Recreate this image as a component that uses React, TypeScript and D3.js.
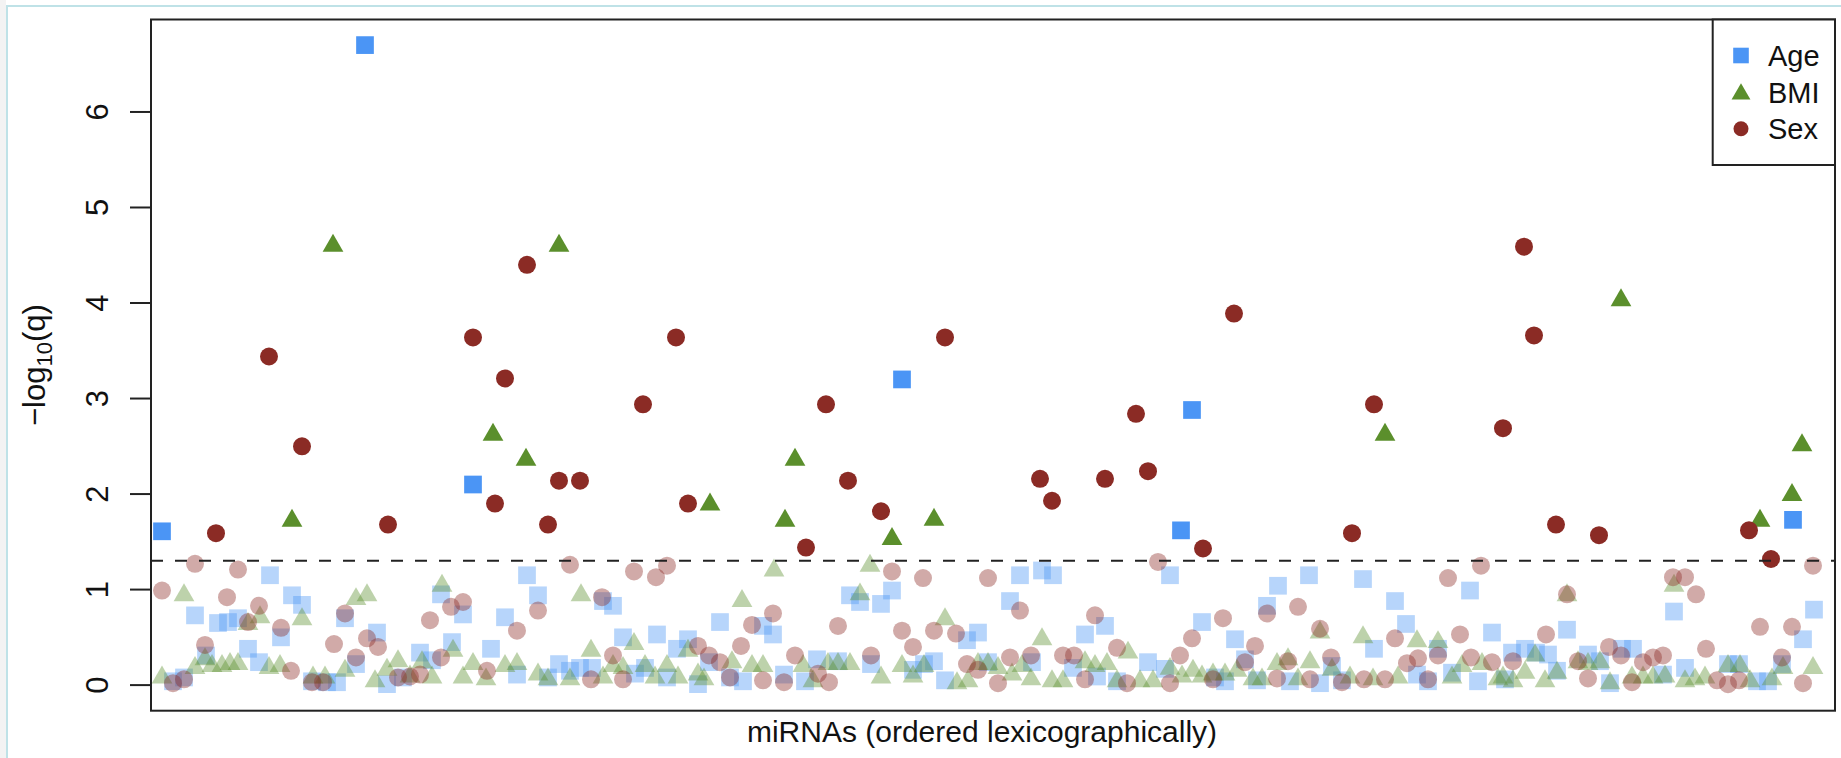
import * as d3 from "d3";

// -log10(q) per miRNA, [position in lexicographic order, value]
const agePoints: [number, number][] = [
  [1.1, 1.61], [2.2, 0.04], [3.3, 0.08], [4.4, 0.73], [5.5, 0.31], [6.7, 0.65], [7.7, 0.66], [8.7, 0.7],
  [9.7, 0.38], [10.8, 0.24], [11.9, 1.15], [13.0, 0.5], [14.1, 0.94], [15.1, 0.84], [16.1, 0.04], [17.6, 0.03],
  [18.6, 0.03], [19.4, 0.7], [20.5, 0.22], [21.4, 6.7], [22.6, 0.55], [23.6, 0.01], [25.2, 0.08], [26.9, 0.34],
  [28.1, 0.26], [29.0, 0.95], [30.1, 0.45], [31.2, 0.74], [32.2, 2.1], [34.0, 0.38], [35.4, 0.71], [36.6, 0.11],
  [37.6, 1.15], [38.7, 0.94], [39.7, 0.08], [40.8, 0.22], [41.9, 0.15], [42.9, 0.18], [44.1, 0.18], [45.2, 0.88],
  [46.2, 0.83], [47.2, 0.5], [48.4, 0.12], [49.4, 0.18], [50.6, 0.53], [51.6, 0.08], [52.6, 0.38], [53.7, 0.48],
  [54.7, 0.01], [55.8, 0.24], [56.9, 0.66], [57.9, 0.08], [59.2, 0.04], [61.2, 0.62], [62.2, 0.53], [63.3, 0.11],
  [65.4, 0.04], [66.6, 0.27], [68.7, 0.25], [69.9, 0.94], [70.9, 0.87], [72.0, 0.22], [73.0, 0.85], [74.1, 0.99],
  [75.1, 3.2], [76.2, 0.16], [77.3, 0.22], [78.3, 0.25], [79.4, 0.05], [81.6, 0.47], [82.7, 0.55], [83.7, 0.24],
  [85.9, 0.88], [86.9, 1.15], [88.1, 0.24], [89.1, 1.2], [90.2, 1.15], [92.2, 0.18], [93.4, 0.53], [94.6, 0.09],
  [95.4, 0.62], [96.6, 0.04], [99.7, 0.24], [101.4, 0.17], [101.9, 1.15], [103.0, 1.62], [104.1, 2.88], [105.1, 0.66],
  [106.4, 0.08], [107.4, 0.04], [108.4, 0.48], [109.4, 0.27], [110.6, 0.05], [111.6, 0.83], [112.7, 1.04], [113.9, 0.04],
  [115.8, 1.15], [116.9, 0.02], [118.1, 0.2], [119.1, 0.05], [121.2, 1.11], [122.3, 0.38], [124.4, 0.88], [125.5, 0.64],
  [126.6, 0.11], [127.7, 0.04], [128.7, 0.38], [130.1, 0.13], [131.9, 0.99], [132.7, 0.04], [134.1, 0.55], [135.4, 0.06],
  [136.1, 0.34], [137.4, 0.38], [138.5, 0.34], [139.7, 0.32], [140.6, 0.15], [141.6, 0.58], [143.7, 0.32], [144.9, 0.25],
  [145.9, 0.02], [147.1, 0.38], [148.2, 0.38], [151.2, 0.11], [152.3, 0.77], [153.4, 0.18], [157.7, 0.22], [158.8, 0.22],
  [160.6, 0.04], [161.7, 0.04], [163.1, 0.22], [164.2, 1.73], [165.2, 0.48], [166.3, 0.79],
];

const bmiPoints: [number, number][] = [
  [1.1, 0.08], [3.3, 0.94], [4.4, 0.18], [5.4, 0.27], [6.1, 0.2], [7.1, 0.2], [7.9, 0.22], [8.7, 0.22],
  [9.7, 0.64], [10.9, 0.71], [11.8, 0.18], [12.9, 0.2], [14.1, 1.72], [15.1, 0.69], [16.2, 0.08], [17.4, 0.08],
  [18.2, 4.6], [19.4, 0.15], [20.5, 0.9], [21.6, 0.94], [22.4, 0.04], [23.6, 0.16], [24.7, 0.25], [25.9, 0.09],
  [27.1, 0.24], [28.1, 0.08], [29.1, 1.04], [30.2, 0.36], [31.2, 0.08], [32.2, 0.22], [33.5, 0.06], [34.2, 2.62],
  [35.4, 0.2], [36.6, 0.22], [37.5, 2.36], [38.7, 0.11], [39.7, 0.06], [40.8, 4.6], [41.9, 0.06], [43.0, 0.94],
  [44.0, 0.36], [45.2, 0.08], [46.2, 0.2], [47.2, 0.18], [48.3, 0.43], [49.4, 0.2], [50.4, 0.08], [51.6, 0.2],
  [52.7, 0.08], [53.7, 0.36], [54.7, 0.11], [55.3, 0.06], [55.9, 1.89], [58.1, 0.24], [59.1, 0.88], [60.1, 0.2],
  [61.2, 0.2], [62.3, 1.2], [63.4, 1.72], [64.4, 2.36], [65.2, 0.2], [66.2, 0.04], [67.7, 0.22], [68.7, 0.22],
  [69.9, 0.22], [70.9, 0.95], [71.9, 1.25], [73.0, 0.08], [74.1, 1.53], [75.1, 0.2], [76.2, 0.09], [77.3, 0.2],
  [78.3, 1.73], [79.4, 0.69], [80.6, 0.02], [81.7, 0.04], [82.7, 0.22], [83.7, 0.22], [84.7, 0.18], [86.1, 0.11],
  [87.1, 0.2], [88.0, 0.06], [89.1, 0.48], [90.1, 0.04], [91.2, 0.04], [93.4, 0.24], [94.4, 0.2], [95.6, 0.22],
  [96.6, 0.04], [97.7, 0.34], [98.9, 0.04], [100.2, 0.04], [101.9, 0.17], [103.1, 0.09], [104.2, 0.15], [105.1, 0.09],
  [106.2, 0.11], [107.4, 0.11], [108.6, 0.15], [110.2, 0.06], [111.1, 0.06], [112.6, 0.22], [113.7, 0.27], [114.7, 0.06],
  [115.9, 0.24], [116.9, 0.55], [118.1, 0.16], [119.9, 0.08], [121.2, 0.5], [122.2, 0.06], [123.4, 2.62], [124.7, 0.08],
  [126.6, 0.46], [128.7, 0.45], [130.1, 0.08], [131.1, 0.2], [133.1, 0.22], [134.7, 0.06], [135.2, 0.08], [136.2, 0.04],
  [137.4, 0.13], [138.4, 0.31], [139.4, 0.04], [140.6, 0.13], [141.6, 0.94], [142.7, 0.24], [143.7, 0.22], [144.9, 0.24],
  [145.9, 0.02], [147.0, 4.03], [148.1, 0.08], [149.2, 0.08], [150.2, 0.08], [151.4, 0.09], [152.3, 1.04], [153.4, 0.04],
  [154.4, 0.06], [155.4, 0.08], [157.7, 0.2], [158.9, 0.2], [159.9, 0.04], [160.9, 1.72], [162.1, 0.06], [163.2, 0.18],
  [164.1, 1.99], [165.1, 2.51], [166.2, 0.18],
];

const sexPoints: [number, number][] = [
  [1.1, 0.99], [2.2, 0.02], [3.3, 0.06], [4.4, 1.27], [5.4, 0.42], [6.5, 1.59], [7.6, 0.92], [8.7, 1.21],
  [9.7, 0.66], [10.8, 0.83], [11.8, 3.44], [13.0, 0.6], [14.0, 0.15], [15.1, 2.5], [16.1, 0.03], [17.2, 0.03],
  [18.3, 0.43], [19.4, 0.75], [20.5, 0.29], [21.6, 0.49], [22.7, 0.4], [23.7, 1.68], [24.7, 0.08], [25.9, 0.09],
  [26.9, 0.11], [27.9, 0.68], [29.0, 0.29], [30.0, 0.82], [31.2, 0.87], [32.2, 3.64], [33.6, 0.15], [34.4, 1.9],
  [35.4, 3.21], [36.6, 0.57], [37.6, 4.4], [38.7, 0.78], [39.7, 1.68], [40.8, 2.14], [41.9, 1.26], [42.9, 2.14],
  [44.0, 0.06], [45.1, 0.92], [46.2, 0.31], [47.2, 0.06], [48.3, 1.19], [49.2, 2.94], [50.5, 1.13], [51.6, 1.25],
  [52.5, 3.64], [53.7, 1.9], [54.7, 0.41], [55.8, 0.31], [56.9, 0.24], [57.9, 0.08], [59.0, 0.41], [60.1, 0.63],
  [61.2, 0.05], [62.2, 0.75], [63.3, 0.03], [64.4, 0.31], [65.5, 1.44], [66.7, 0.12], [67.5, 2.94], [67.8, 0.03],
  [68.7, 0.62], [69.7, 2.14], [72.0, 0.31], [73.0, 1.82], [74.1, 1.19], [75.1, 0.57], [76.2, 0.4], [77.2, 1.12],
  [78.3, 0.57], [79.4, 3.64], [80.5, 0.54], [81.6, 0.22], [82.7, 0.16], [83.7, 1.12], [84.7, 0.02], [85.9, 0.29],
  [86.9, 0.78], [88.0, 0.31], [88.9, 2.16], [90.1, 1.93], [91.2, 0.31], [92.3, 0.31], [93.4, 0.06], [94.4, 0.73],
  [95.4, 2.16], [96.6, 0.39], [97.6, 0.02], [98.5, 2.84], [99.7, 2.24], [100.7, 1.29], [101.9, 0.02], [102.9, 0.31],
  [104.1, 0.49], [105.2, 1.43], [106.2, 0.06], [107.2, 0.7], [108.3, 3.89], [109.4, 0.24], [110.4, 0.41], [111.6, 0.75],
  [112.6, 0.07], [113.7, 0.25], [114.7, 0.82], [115.9, 0.06], [116.9, 0.59], [118.0, 0.29], [119.1, 0.03], [120.1, 1.59],
  [121.3, 0.06], [122.3, 2.94], [123.4, 0.06], [124.4, 0.49], [125.6, 0.23], [126.7, 0.28], [127.7, 0.06], [128.7, 0.31],
  [129.7, 1.12], [130.9, 0.53], [132.0, 0.29], [133.0, 1.25], [134.1, 0.24], [135.2, 2.69], [136.2, 0.25], [137.3, 4.59],
  [138.3, 3.66], [139.5, 0.53], [140.5, 1.68], [141.6, 0.95], [142.7, 0.25], [143.7, 0.07], [144.8, 1.57], [145.8, 0.4],
  [147.0, 0.31], [148.1, 0.03], [149.2, 0.24], [150.2, 0.29], [151.2, 0.31], [152.2, 1.13], [153.4, 1.13], [154.5, 0.95],
  [155.5, 0.38], [156.6, 0.05], [157.7, 0.01], [158.8, 0.05], [159.8, 1.62], [160.9, 0.61], [162.0, 1.32], [163.1, 0.29],
  [164.1, 0.61], [165.2, 0.02], [166.2, 1.25],
];

const yTicks = [0, 1, 2, 3, 4, 5, 6];
const legendLabels = ["Age", "BMI", "Sex"];
const nPositions = 168.4;
const qCut = 0.05;

const colors = { age: "#4b95f5", bmi: "#5b8f2c", sex: "#8b2b25" };
const fadedOpacity = 0.4;
const font = "'Liberation Sans', Arial, Helvetica, sans-serif";

// triangle like R's pch 17, centred on its centroid
const triPath = (r: number) =>
  `M0,${-1.555 * r}L${1.347 * r},${0.778 * r}L${-1.347 * r},${0.778 * r}Z`;

export default function App() {
  const W = 1841;
  const H = 758;
  const left = 151, right = 1835, top = 19.5, bottom = 710.7;

  const threshold = -Math.log10(qCut);
  const all = [...agePoints, ...bmiPoints, ...sexPoints];
  const yMax = d3.max(all, (d) => d[1]) as number;
  const pad = 0.04 * yMax;

  const x = d3.scaleLinear().domain([0, nPositions]).range([left, right]);
  const y = d3.scaleLinear().domain([-pad, yMax + pad]).range([bottom, top]);

  const op = (v: number) => (v > threshold ? 1 : fadedOpacity);
  const sq = 17.7;

  return (
    <div>
      <style>{`body{margin:0;background:#fff}`}</style>
      <svg width={W} height={H} style={{ display: "block", fontFamily: font }}>
        <rect x={0} y={0} width={W} height={H} fill="#fff" />
        <rect x={0} y={0} width={6} height={H} fill="#f3f3f3" />
        <line x1={7} y1={6} x2={7} y2={H} stroke="#bfe2e7" strokeWidth={2} />
        <line x1={6} y1={6} x2={W} y2={6} stroke="#bfe2e7" strokeWidth={2} />

        {/* points */}
        <g>
          {agePoints.map((d, i) => (
            <rect
              key={"a" + i}
              x={x(d[0]) - sq / 2}
              y={y(d[1]) - sq / 2}
              width={sq}
              height={sq}
              fill={colors.age}
              fillOpacity={op(d[1])}
            />
          ))}
          {bmiPoints.map((d, i) => (
            <path
              key={"b" + i}
              d={triPath(7.7)}
              transform={`translate(${x(d[0])},${y(d[1])})`}
              fill={colors.bmi}
              fillOpacity={op(d[1])}
            />
          ))}
          {sexPoints.map((d, i) => (
            <circle
              key={"s" + i}
              cx={x(d[0])}
              cy={y(d[1])}
              r={9}
              fill={colors.sex}
              fillOpacity={op(d[1])}
            />
          ))}
        </g>

        <line
          x1={left}
          x2={right}
          y1={y(threshold)}
          y2={y(threshold)}
          stroke="#222"
          strokeWidth={2}
          strokeDasharray="12,12"
        />

        <rect x={left} y={top} width={right - left} height={bottom - top} fill="none" stroke="#222" strokeWidth={2} />

        {/* y axis */}
        {yTicks.map((t) => (
          <g key={t}>
            <line x1={130} x2={left} y1={y(t)} y2={y(t)} stroke="#222" strokeWidth={2} />
            <text
              transform={`translate(108,${y(t)}) rotate(-90)`}
              textAnchor="middle"
              fontSize={31}
              fill="#111"
            >
              {t}
            </text>
          </g>
        ))}
        <text transform={`translate(45,${(top + bottom) / 2}) rotate(-90)`} textAnchor="middle" fontSize={31} fill="#111">
          −log
          <tspan fontSize={22} dy={7}>10</tspan>
          <tspan dy={-7}>(q)</tspan>
        </text>

        <text x={982} y={742} textAnchor="middle" fontSize={30} fill="#111">
          miRNAs (ordered lexicographically)
        </text>

        {/* legend */}
        <g>
          <rect x={1712.7} y={top} width={right - 1712.7} height={145.5} fill="#fff" stroke="#222" strokeWidth={2} />
          {legendLabels.map((lab, i) => {
            const cy = 55.5 + i * 36.6;
            const cx = 1741;
            return (
              <g key={lab}>
                {i === 0 && <rect x={cx - 7.8} y={cy - 7.8} width={15.6} height={15.6} fill={colors.age} />}
                {i === 1 && <path d={triPath(7)} transform={`translate(${cx},${cy + 2})`} fill={colors.bmi} />}
                {i === 2 && <circle cx={cx} cy={cy} r={7.5} fill={colors.sex} />}
                <text x={1768} y={cy + 10.5} fontSize={29} fill="#111">
                  {lab}
                </text>
              </g>
            );
          })}
        </g>
      </svg>
    </div>
  );
}
